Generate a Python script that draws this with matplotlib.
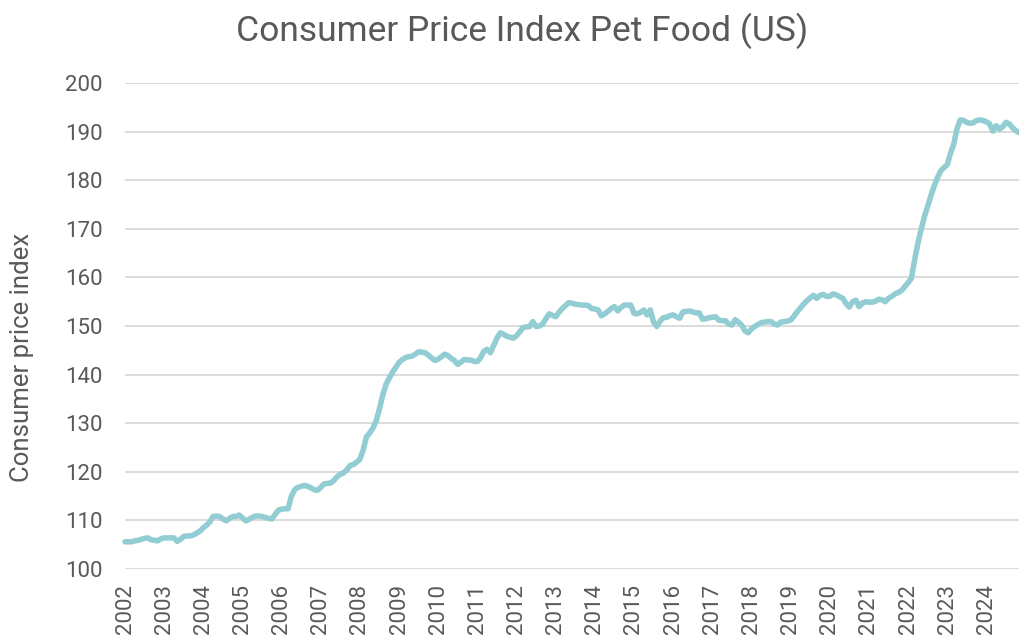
# -*- coding: utf-8 -*-
"""
Consumer Price Index, pet food (US), monthly Jan 2002 - Nov 2024
"""

import numpy as np
import matplotlib
matplotlib.use("Agg")
import matplotlib.pyplot as plt

#%% Data (one row per year)

cpi_2002 = [105.6, 105.6, 105.6, 105.8, 105.9, 106.1, 106.3, 106.4, 106.0, 105.9, 105.8, 106.2]
cpi_2003 = [106.4, 106.4, 106.4, 106.4, 105.7, 106.1, 106.7, 106.8, 106.8, 107.0, 107.4, 107.8]
cpi_2004 = [108.5, 109.0, 109.7, 110.8, 110.9, 110.8, 110.3, 109.9, 110.4, 110.8, 110.8, 111.1]
cpi_2005 = [110.5, 109.9, 110.2, 110.6, 110.9, 110.9, 110.8, 110.6, 110.4, 110.3, 111.2, 112.1]
cpi_2006 = [112.3, 112.4, 112.4, 115.0, 116.3, 116.8, 117.0, 117.2, 117.0, 116.7, 116.3, 116.2]
cpi_2007 = [116.8, 117.5, 117.6, 117.7, 118.2, 119.0, 119.5, 119.8, 120.4, 121.3, 121.5, 122.0]
cpi_2008 = [122.6, 124.5, 127.2, 128.0, 129.0, 130.5, 133.0, 135.8, 138.0, 139.3, 140.5, 141.5]
cpi_2009 = [142.5, 143.1, 143.5, 143.7, 143.8, 144.2, 144.7, 144.6, 144.5, 144.0, 143.4, 142.9]
cpi_2010 = [143.2, 143.7, 144.2, 143.9, 143.3, 142.9, 142.1, 142.6, 143.1, 143.0, 143.0, 142.7]
cpi_2011 = [142.7, 143.5, 144.8, 145.2, 144.5, 146.0, 147.5, 148.6, 148.3, 147.9, 147.7, 147.5]
cpi_2012 = [148.0, 148.8, 149.7, 149.8, 149.9, 150.9, 149.9, 150.0, 150.4, 151.5, 152.5, 152.2]
cpi_2013 = [151.9, 152.8, 153.6, 154.2, 154.8, 154.7, 154.5, 154.4, 154.3, 154.3, 154.2, 153.6]
cpi_2014 = [153.5, 153.3, 152.1, 152.5, 153.0, 153.6, 154.0, 153.1, 153.8, 154.3, 154.3, 154.3]
cpi_2015 = [152.6, 152.5, 152.8, 153.3, 152.3, 153.3, 150.8, 149.9, 151.0, 151.7, 151.8, 152.1]
cpi_2016 = [152.3, 151.9, 151.6, 152.9, 153.0, 153.1, 152.9, 152.7, 152.7, 151.4, 151.5, 151.7]
cpi_2017 = [151.8, 151.9, 151.2, 151.1, 151.1, 150.4, 150.2, 151.3, 150.8, 150.2, 149.0, 148.6]
cpi_2018 = [149.4, 149.9, 150.3, 150.7, 150.8, 150.9, 150.9, 150.4, 150.2, 150.8, 150.9, 151.0]
cpi_2019 = [151.2, 152.0, 152.9, 153.7, 154.5, 155.2, 155.8, 156.3, 155.7, 156.3, 156.5, 156.1]
cpi_2020 = [156.1, 156.6, 156.4, 156.0, 155.7, 154.6, 153.9, 155.0, 155.3, 154.0, 154.7, 155.0]
cpi_2021 = [154.9, 154.9, 155.1, 155.5, 155.4, 155.0, 155.7, 156.1, 156.6, 156.9, 157.3, 158.1]
cpi_2022 = [158.9, 159.8, 163.5, 167.0, 169.8, 172.5, 174.6, 176.8, 178.8, 180.5, 181.9, 182.6]
cpi_2023 = [183.2, 185.5, 187.4, 190.6, 192.4, 192.3, 191.9, 191.7, 191.8, 192.3, 192.4, 192.3]
cpi_2024 = [192.0, 191.6, 190.1, 191.2, 190.5, 191.0, 191.9, 191.6, 190.8, 190.2, 189.8]

years = list(range(2002, 2025))
year_labels = [str(y) for y in years]

cpi = (cpi_2002 + cpi_2003 + cpi_2004 + cpi_2005 + cpi_2006 + cpi_2007 + cpi_2008
       + cpi_2009 + cpi_2010 + cpi_2011 + cpi_2012 + cpi_2013 + cpi_2014 + cpi_2015
       + cpi_2016 + cpi_2017 + cpi_2018 + cpi_2019 + cpi_2020 + cpi_2021 + cpi_2022
       + cpi_2023 + cpi_2024)
months = np.arange(len(cpi))

#%% Plot

text_col = "#595959"
plt.rcParams["font.family"] = ["Roboto", "DejaVu Sans"]

fig = plt.figure(figsize=(10.19, 6.35), dpi=100)
ax = fig.add_axes([125 / 1019, 1 - 569 / 635, 1 - 125 / 1019, (569 - 83) / 635])

ax.plot(months, cpi, color="#92CDD3", lw=4, solid_capstyle="round",
        solid_joinstyle="round", clip_on=False, zorder=3)

ax.set_xlim(0, len(cpi) - 1)
ax.set_ylim(100, 200)
ax.set_yticks(np.arange(100, 201, 10))
ax.set_xticks(np.arange(len(years)) * 12)
ax.set_xticklabels(year_labels, rotation=90)

ax.grid(axis="y", color="#D9D9D9", lw=1.3)
ax.set_axisbelow(True)
for s in ax.spines.values():
    s.set_visible(False)

ax.tick_params(axis="y", length=0, pad=16, labelsize=16, labelcolor=text_col)
ax.tick_params(axis="x", length=0, pad=11, labelsize=16, labelcolor=text_col)

# axis title and chart title placed by hand, like the Excel layout
fig.text(22 / 1019, 1 - 357 / 635, "Consumer price index", rotation=90,
         ha="center", va="center", fontsize=18.5, color=text_col)
fig.text(0.512, 0.952, "Consumer Price Index Pet Food (US)", ha="center",
         va="center", fontsize=25.5, color=text_col)

fig.savefig("out.png", dpi=100)
